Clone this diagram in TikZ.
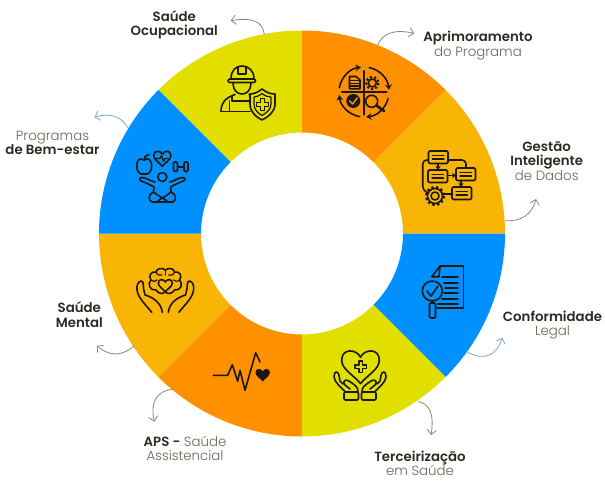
\documentclass[tikz,border=0pt]{standalone}
\usepackage{fontspec}
\setmainfont{Poppins}
\newfontfamily\lite{Poppins Light}
\newfontfamily\semi{Poppins SemiBold}
\usetikzlibrary{arrows.meta}
\definecolor{cyel}{HTML}{E2DF00}
\definecolor{corg}{HTML}{FF9000}
\definecolor{camb}{HTML}{F9B505}
\definecolor{cblu}{HTML}{0090FF}
\definecolor{ink}{HTML}{1A1810}
\definecolor{tdark}{HTML}{2C2A22}
\definecolor{tlite}{HTML}{6A6558}
\definecolor{atan}{HTML}{8C8670}
\definecolor{ablu}{HTML}{7FA6C4}
\newcommand{\bt}[1]{{\semi\color{tdark}#1}}
\newcommand{\lt}[1]{{\lite\color{tlite}#1}}
\tikzset{
  lab/.style={align=center,inner sep=0pt,font=\fontsize{10}{10.7}\selectfont},
  curl/.style={line width=0.6pt,-{Straight Barb[length=3.5pt,width=7pt]}},
  icon/.style={draw=ink,line width=1.2pt,line join=round,line cap=round},
  thinicon/.style={draw=ink,line width=0.9pt,line join=round,line cap=round},
  heartp/.pic={\path[pic actions] (0,-.5) .. controls (-.2,-.95) and (-1,-1) .. (-1,-.35) .. controls (-1,.15) and (-.35,.45) .. (0,.9) .. controls (.35,.45) and (1,.15) .. (1,-.35) .. controls (1,-1) and (.2,-.95) .. (0,-.5) -- cycle;},
  plusp/.pic={\path[pic actions] (-2,-6)--(2,-6)--(2,-2)--(6,-2)--(6,2)--(2,2)--(2,6)--(-2,6)--(-2,2)--(-6,2)--(-6,-2)--(-2,-2)--cycle;},
}
\begin{document}
\begin{tikzpicture}[x=0.75pt,y=-0.75pt]
\useasboundingbox (0,0) rectangle (605,485);
% ring
\begin{scope}[shift={(302,233.5)},y=0.75pt]
\foreach \a/\b/\c in {90/135/cyel,45/90/corg,0/45/camb,-45/0/cblu,-90/-45/cyel,-135/-90/corg,-180/-135/camb,135/180/cblu}{
  \fill[\c] (\a:203) arc[start angle=\a,end angle=\b,radius=203] -- (\b:101) arc[start angle=\b,end angle=\a,radius=101] -- cycle;
}
\end{scope}
% labels
\node[lab] (ocup) at (174.3,25) {\bt{Saúde}\\\bt{Ocupacional}};
\node[lab] (apri) at (478,45.5) {\bt{Aprimoramento}\\\lt{do Programa}};
\node[lab] (gest) at (546.7,161) {\bt{Gestão}\\\bt{Inteligente}\\\lt{de Dados}};
\node[lab] (conf) at (552.5,325) {\bt{Conformidade}\\\lt{Legal}};
\node[lab] (terc) at (420,463) {\bt{Terceirização}\\\lt{em Saúde}};
\node[lab] (aps) at (185,448.5) {\bt{APS -} \lt{Saúde}\\\lt{Assistencial}};
\node[lab] (ment) at (79.3,314.7) {\bt{Saúde}\\\bt{Mental}};
\node[lab] (prog) at (52.5,143) {\lt{Programas}\\\bt{de Bem-estar}};
% curled arrows
\coordinate (s1) at (264.3,34.3); \coordinate (e1) at (230.7,20.7);
\coordinate (s2) at (377.7,45);   \coordinate (e2) at (414.3,33.3);
\coordinate (s3) at (505,220.7);  \coordinate (e3) at (536,199);
\coordinate (s4) at (467.7,352.3);\coordinate (e4) at (502.3,337.7);
\coordinate (s5) at (418.3,401.7);\coordinate (e5) at (431,435);
\coordinate (s6) at (173.3,389);  \coordinate (e6) at (154.3,421.7);
\coordinate (s7) at (134.3,345.7);\coordinate (e7) at (96.7,345.7);
\coordinate (s8) at (128.3,128.3);\coordinate (e8) at (94.3,117.3);
\draw[curl,atan] (s1) .. controls (262.8,21.4) and (251.6,17) .. (e1);
\draw[curl,atan] (s2) .. controls (382.6,33) and (394.4,29) .. (e2);
\draw[curl,atan] (s3) .. controls (521.7,221.6) and (532,214.3) .. (e3);
\draw[curl,ablu] (s4) .. controls (484.6,360.8) and (496.1,356) .. (e4);
\draw[curl,atan] (s5) .. controls (430,403.9) and (434.3,415) .. (e5);
\draw[curl,atan] (s6) .. controls (156.4,391) and (150.1,401.9) .. (e6);
\draw[curl,atan] (s7) .. controls (122,356.6) and (109.6,356.6) .. (e7);
\draw[curl,ablu] (s8) .. controls (121.4,116.1) and (110.1,112.4) .. (e8);

% --- worker icon
\draw[icon] (231,79) .. controls (231,70) and (236,66) .. (242,66) .. controls (248,66) and (254,70) .. (254,79);
\draw[icon] (238,67)--(238,74)--(246,74)--(246,67);
\draw[icon,rounded corners=1.5pt] (228,79) rectangle (255.5,82.5);
\draw[icon] (233,83) .. controls (233,90) and (237,94) .. (242,94) .. controls (247,94) and (251,90) .. (251,83);
\draw[icon] (221,111.5) .. controls (221,103) and (225,98) .. (235,94.5);
\draw[icon] (249,94.5)--(254,96.5);
\draw[icon] (221,111.5)--(250,111.5);
\draw[icon] (232,96)--(232,101)--(250,101);
\draw[icon] (229.5,101)--(229.5,111.5);
\draw[icon,fill=cyel] (262,89) .. controls (257,93) and (253,94) .. (250,94) -- (250,104) .. controls (250,112) and (256,117) .. (262,120) .. controls (268,117) and (275,112) .. (275,104) -- (275,94) .. controls (271,94) and (267,93) .. (262,89) -- cycle;
\draw[thinicon] (262,93.5) .. controls (259,96) and (256,97) .. (254,97) -- (254,104) .. controls (254,110) and (258,113) .. (262,115.5) .. controls (266,113) and (271,110) .. (271,104) -- (271,97) .. controls (268,97) and (265,96) .. (262,93.5) -- cycle;
\pic[icon] at (262.3,104.5) {plusp};

% --- improvement cycle icon
\begin{scope}[shift={(364,92)},y=0.75pt]
\draw[icon,-{Stealth[length=4pt,width=5pt]}] (170:25) arc[start angle=170,end angle=97,radius=25];
\draw[icon,-{Stealth[length=4pt,width=5pt]}] (78:25) arc[start angle=78,end angle=5,radius=25];
\draw[icon,-{Stealth[length=4pt,width=5pt]}] (-15:25) arc[start angle=-15,end angle=-85,radius=25];
\draw[icon,-{Stealth[length=4pt,width=5pt]}] (-100:25) arc[start angle=-100,end angle=-173,radius=25];
\end{scope}
\draw[icon] (364,70.7)--(364,114.7);
\draw[icon] (341.7,92)--(386.7,92);
\draw[icon] (349.5,76.5)--(356,76.5)--(360,80)--(360,88.7)--(349.5,88.7)--cycle;
\draw[icon] (349.5,80.5)--(360,80.5) (349.5,83.5)--(360,83.5) (349.5,86)--(360,86);
\draw[icon] (372.3,83) circle[radius=4];
\draw[line width=1.6pt,ink,dash pattern=on 1.6pt off 1.6pt] (372.3,83) circle[radius=6];
\fill[ink] (353.3,101) circle[radius=7];
\draw[line width=1.1pt,corg,line cap=round,line join=round] (349.7,101)--(352.5,104)--(357.3,98);
\draw[icon] (371.7,101.3) circle[radius=6];
\draw[icon,line width=2pt] (376.5,105.5)--(384,111);

% --- flow icon
\foreach \x/\y in {428.5/151,428/170,456/168,452/187}{
  \draw[icon,rounded corners=1pt] (\x,\y) rectangle ++(19.5,12.5);
  \draw[thinicon] (\x+4,\y+4.5)--(\x+15.5,\y+4.5) (\x+4,\y+8)--(\x+15.5,\y+8);
}
\draw[icon,rounded corners=3pt] (428.5,160)--(422.7,160)--(422.7,190)--(428,193);
\draw[icon,rounded corners=3pt] (448,160)--(466,160)--(466,168);
\draw[icon,-{Stealth[length=3pt,width=4pt]}] (438,163.5)--(438,170);
\draw[icon,-{Stealth[length=3pt,width=4pt]}] (447.5,175.5)--(456,175.5);
\draw[icon,-{Stealth[length=3pt,width=4pt]}] (461,180.5)--(461,187);
\draw[icon] (444,194)--(452,194);
\draw[icon] (435,196) circle[radius=4];
\draw[icon] (435,196) circle[radius=7.5];
\draw[line width=1.6pt,ink,dash pattern=on 1.8pt off 1.8pt] (435,196) circle[radius=9];

% --- compliance icon
\draw[icon] (440,266)--(463.3,266)--(463.3,308)--(437,308);
\draw[icon] (440,266)--(431.7,276.7)--(439,276.7)--(440,266);
\draw[icon] (442,277)--(458,277) (444,283)--(458,283) (445,288)--(458,288) (444,293)--(458,293) (442,299)--(458,299) (438,304)--(458,304);
\draw[icon,fill=cblu] (432.3,291) circle[radius=10];
\draw[icon] (427,291)--(431,296)--(438,286);
\draw[icon,rounded corners=1pt] (429.5,303)--(429.5,318)--(435.5,318)--(435.5,303)--cycle;

% --- care icon
\pic[icon,scale=18.8] at (360.5,366.7) {heartp};
\pic[icon,scale=0.95] at (360.7,366.7) {plusp};
\def\handA{
\draw[icon,rounded corners=1pt] (344,392) rectangle (358.5,400);
\draw[icon] (345.5,392) .. controls (340,386) and (335,383) .. (334,377) .. controls (334,374) and (335,372) .. (336,372) .. controls (339,372) and (339,376) .. (340,381) -- (343,384);
\draw[icon] (358,392) .. controls (358,387) and (355,385) .. (352,383) -- (348,380.5) .. controls (345,379) and (342,382) .. (345,385) -- (350,389);
}
\handA
\begin{scope}[shift={(720,0)},xscale=-1]
\handA
\end{scope}

% --- ecg icon
\draw[icon] (213.3,375.3)--(227.7,375.3)--(232.3,364.7)--(237.7,381.3)--(240,370.3)--(245,390.3)--(255.7,352.7)--(260,362);
\pic[fill=ink,scale=7.2] at (262.7,375) {heartp};

% --- mental health icon
\def\brainhand{
\draw[icon] (151.7,312.3) .. controls (146,305) and (138,298) .. (137,290) .. controls (136.5,285) and (138,281.7) .. (141,281) .. controls (143,281) and (143.5,284) .. (143.5,288) -- (145,295) .. controls (152,297) and (161,302) .. (162.3,312.3);
\draw[icon] (165.3,270) .. controls (162,267.5) and (157,268) .. (156,272) .. controls (151,271) and (148,276) .. (151,280) .. controls (147,284) and (150,291) .. (156,290) .. controls (158,293) and (162,295) .. (165.3,292);
\draw[thinicon] (156,272) .. controls (157,275) and (160,276) .. (162,275);
\draw[thinicon] (151,280) .. controls (153,282) and (155,282) .. (157,280);
}
\brainhand
\begin{scope}[shift={(330.6,0)},xscale=-1]
\brainhand
\end{scope}
\draw[icon] (165.3,270)--(165.3,275);
\pic[icon,scale=7] at (165.3,285.5) {heartp};

% --- wellness icon
\draw[icon] (144,160) .. controls (139,157) and (136.7,161) .. (136.7,166) .. controls (136.7,172) and (140,175) .. (144,174) .. controls (148,175) and (151.7,172) .. (151.7,166) .. controls (151.7,161) and (149,157) .. (144,160) -- cycle;
\draw[icon] (144,160) .. controls (144,157) and (146,155) .. (149,154.5);
\pic[icon,scale=8.6] at (162.3,158.5) {heartp};
\draw[thinicon] (156.5,158.5)--(160,158.5)--(161.5,155.5)--(163.5,161.5)--(165,158.5)--(168,158.5);
\draw[icon,rounded corners=1pt] (173.5,162) rectangle (177.5,171.5);
\draw[icon,rounded corners=1pt] (184,162) rectangle (188,171.5);
\draw[icon] (177.5,166.7)--(184,166.7);
\draw[icon] (162.3,177) circle[radius=4.5];
\def\wellhalf{
\draw[icon] (155,182) .. controls (150,181) and (145,177) .. (141,177.5) .. controls (139,178) and (139,180.5) .. (141,181) .. controls (145,182.5) and (151,185) .. (154,187) -- (153.5,192) .. controls (148,194) and (148,201) .. (152,202) -- (162.3,202);
\draw[icon] (153.5,192) .. controls (158,196) and (165,199) .. (168,202);
}
\wellhalf
\begin{scope}[shift={(324.6,0)},xscale=-1]
\wellhalf
\end{scope}
\end{tikzpicture}
\end{document}
